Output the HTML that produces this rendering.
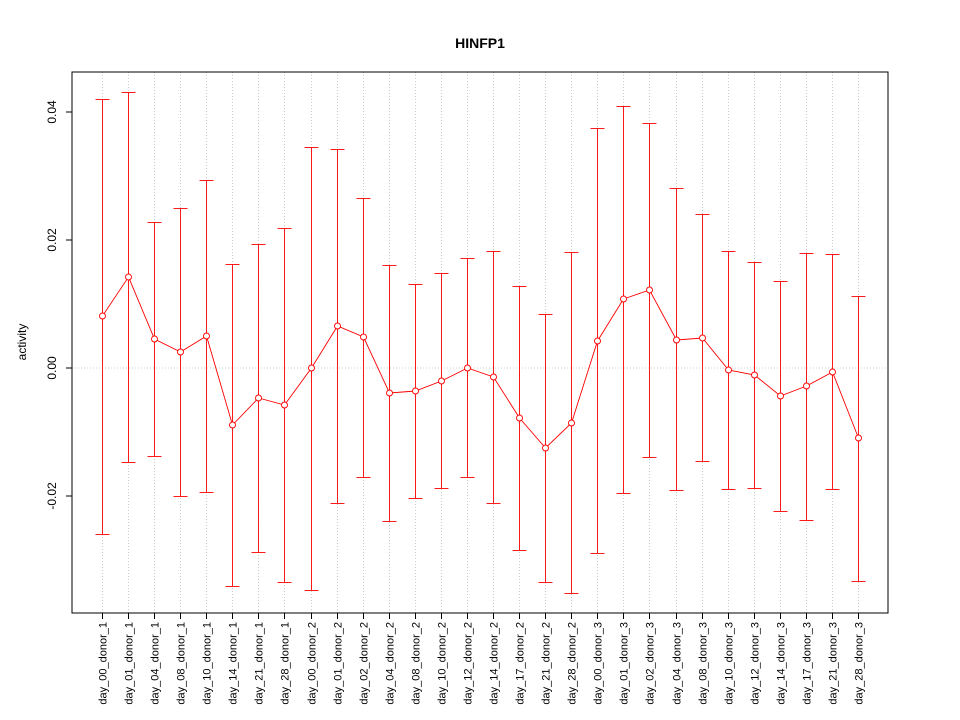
<!DOCTYPE html>
<html><head><meta charset="utf-8"><style>body{margin:0;background:#fff}svg{display:block}</style></head>
<body>
<svg width="960" height="720" xmlns="http://www.w3.org/2000/svg" font-family="Liberation Sans, sans-serif">
<rect width="960" height="720" fill="#fff"/>
<text x="480" y="48" text-anchor="middle" font-weight="bold" font-size="14">HINFP1</text>
<g id="grid" stroke="#ccc" stroke-dasharray="1,2" stroke-width="1"></g>
<line x1="72" y1="368" x2="888" y2="368" stroke="#ccc" stroke-dasharray="1,2"/>
<rect x="72" y="72" width="816" height="541" fill="none" stroke="#000"/>
<g stroke="#000" font-size="12">
<line x1="72" y1="112" x2="66" y2="112"/><line x1="72" y1="240" x2="66" y2="240"/><line x1="72" y1="368" x2="66" y2="368"/><line x1="72" y1="496" x2="66" y2="496"/>
<line x1="72" y1="112" x2="72" y2="496"/>
</g>
<g font-size="12" text-anchor="middle">
<text transform="translate(56,112) rotate(-90)">0.04</text>
<text transform="translate(56,240) rotate(-90)">0.02</text>
<text transform="translate(56,368) rotate(-90)">0.00</text>
<text transform="translate(56,496) rotate(-90)">-0.02</text>
<text transform="translate(26,342) rotate(-90)">activity</text>
</g>
<g id="data"></g>
<script>
var d=[[316,99,534],[277,92,462],[339,222,456],[352,208,496],[336,180,492],[425,264,586],[398,244,552],[405,228,582],[368,147,590],[326,149,503],[337,198,477],[393,265,521],[391,284,498],[381,273,488],[368,258,477],[377,251,503],[418,286,550],[448,314,582],[423,252,593],[341,128,553],[299,106,493],[290,123,457],[340,188,490],[338,214,461],[370,251,489],[375,262,488],[396,281,511],[386,253,520],[372,254,489],[438,296,581]];
var labs=[];
var days1=['00','01','04','08','10','14','21','28'],days2=['00','01','02','04','08','10','12','14','17','21','28'];
days1.forEach(function(x){labs.push('day_'+x+'_donor_1')});days2.forEach(function(x){labs.push('day_'+x+'_donor_2')});days2.forEach(function(x){labs.push('day_'+x+'_donor_3')});
var ns='http://www.w3.org/2000/svg',g=document.getElementById('data'),gr=document.getElementById('grid'),s=document.querySelector('svg');
function el(p,t,a,txt){var e=document.createElementNS(ns,t);for(var k in a)e.setAttribute(k,a[k]);if(txt)e.textContent=txt;p.appendChild(e);return e;}
function X(i){return Math.round(102+i*756/29)+0.5;}
var pts=[];
d.forEach(function(v,i){var x=X(i);pts.push(x+','+v[0]);
el(gr,'line',{x1:x,y1:72,x2:x,y2:613});
el(g,'line',{x1:x,y1:v[1],x2:x,y2:v[2],stroke:'#f00','stroke-width':0.9});
el(g,'line',{x1:x-7,y1:v[1]+.5,x2:x+7,y2:v[1]+.5,stroke:'#f00','stroke-width':0.9});
el(g,'line',{x1:x-7,y1:v[2]+.5,x2:x+7,y2:v[2]+.5,stroke:'#f00','stroke-width':0.9});
el(s,'line',{x1:x,y1:613,x2:x,y2:619,stroke:'#000'});
el(s,'text',{transform:'translate('+(x+4)+',622) rotate(-90)','text-anchor':'end','font-size':'11'},labs[i]);
});
el(g,'polyline',{points:pts.join(' '),fill:'none',stroke:'#f00','stroke-width':0.9});
d.forEach(function(v,i){var x=X(i);el(g,'circle',{cx:x,cy:v[0],r:3,fill:'#fff',stroke:'#f00','stroke-width':0.9});});
el(s,'line',{x1:102,y1:613,x2:858,y2:613,stroke:'#000'});
</script>
</svg>
</body></html>
